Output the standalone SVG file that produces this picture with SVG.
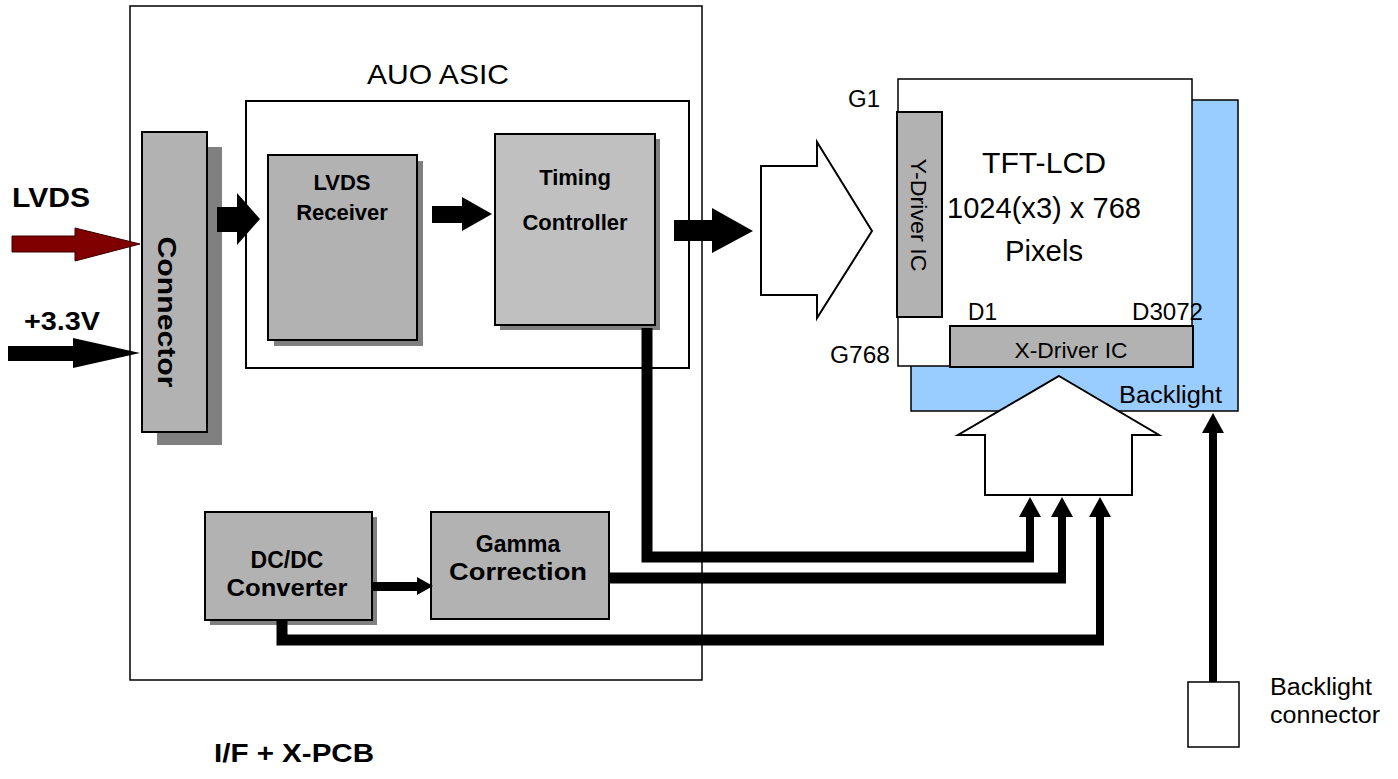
<svg xmlns="http://www.w3.org/2000/svg" width="1398" height="779" viewBox="0 0 1398 779">
<style>
.t{font-family:"Liberation Sans",Arial,Helvetica,sans-serif;fill:#000}
.b{font-weight:bold}
.thin{fill:none;stroke:#000;stroke-width:1.5}
.box{stroke:#000;stroke-width:2}
.gray{fill:#b2b2b2}
.lgray{fill:#c0c0c0}
.shadow{fill:#808080}
.bus{fill:none;stroke:#000;stroke-width:11}
.shaft{fill:none;stroke:#000;stroke-width:8}
.solid{fill:#000}
.hollow{fill:#fff;stroke:#000;stroke-width:2}
</style>
<defs>
<marker id="ah" markerUnits="userSpaceOnUse" viewBox="0 -11 20 22" refX="0" refY="0" markerWidth="20" markerHeight="22" orient="auto">
<path d="M0,-11 L20,0 L0,11 z" fill="#000"/>
</marker>
</defs>

<g id="pcb">
<rect x="130" y="6" width="572" height="674" class="thin"/>
<text class="t b" x="214" y="762" font-size="25" textLength="160" lengthAdjust="spacingAndGlyphs">I/F + X-PCB</text>
</g>

<g id="asic">
<rect x="246" y="101" width="443" height="267" fill="none" class="box"/>
<text class="t" x="438" y="84" font-size="28" text-anchor="middle" textLength="142" lengthAdjust="spacingAndGlyphs">AUO ASIC</text>
</g>

<g id="lvds-in">
<text class="t b" x="12" y="207" font-size="27" textLength="78" lengthAdjust="spacingAndGlyphs">LVDS</text>
<polygon points="12,236 75,236 75,228 140,244 75,261 75,252 12,252" fill="#800000" stroke="#3a0000" stroke-width="1"/>
</g>

<g id="power-in">
<text class="t b" x="24" y="330" font-size="25" textLength="76" lengthAdjust="spacingAndGlyphs">+3.3V</text>
<polygon points="8,346 73,346 73,338 140,353 73,368 73,361 8,361" class="solid"/>
</g>

<g id="connector">
<rect x="157" y="147" width="65" height="298" class="shadow"/>
<rect x="142" y="132" width="65" height="300" class="box gray"/>
<text class="t b" font-size="25" text-anchor="middle" transform="translate(158,312) rotate(90)" textLength="151" lengthAdjust="spacingAndGlyphs">Connector</text>
</g>

<g id="lvds-receiver">
<rect x="274" y="161" width="149" height="185" class="shadow"/>
<rect x="268" y="155" width="149" height="185" class="box gray"/>
<text class="t b" x="342" y="190" font-size="22" text-anchor="middle">LVDS</text>
<text class="t b" x="342" y="220" font-size="22" text-anchor="middle">Receiver</text>
</g>

<g id="timing-controller">
<rect x="500" y="139" width="160" height="191" class="shadow"/>
<rect x="495" y="134" width="160" height="191" class="box lgray"/>
<text class="t b" x="575" y="185" font-size="22" text-anchor="middle">Timing</text>
<text class="t b" x="575" y="230" font-size="22" text-anchor="middle">Controller</text>
</g>

<g id="dcdc">
<rect x="210" y="517" width="167" height="108" class="shadow"/>
<rect x="205" y="512" width="167" height="108" class="box gray"/>
<text class="t b" x="287" y="568" font-size="23" text-anchor="middle">DC/DC</text>
<text class="t b" x="287" y="596" font-size="23" text-anchor="middle" textLength="121" lengthAdjust="spacingAndGlyphs">Converter</text>
</g>

<g id="gamma">
<rect x="431" y="512" width="178" height="107" class="box gray"/>
<text class="t b" x="518" y="552" font-size="23" text-anchor="middle">Gamma</text>
<text class="t b" x="518" y="580" font-size="23" text-anchor="middle" textLength="138" lengthAdjust="spacingAndGlyphs">Correction</text>
</g>

<g id="panel">
<rect x="911" y="100" width="327" height="311" fill="#99ccff" stroke="#000" stroke-width="1.5"/>
<rect x="898" y="79" width="294" height="287" fill="#fff" stroke="#000" stroke-width="1.5"/>
<text class="t" x="1044" y="173" font-size="29" text-anchor="middle" textLength="124" lengthAdjust="spacingAndGlyphs">TFT-LCD</text>
<text class="t" x="1044" y="218" font-size="29" text-anchor="middle" textLength="194" lengthAdjust="spacingAndGlyphs">1024(x3) x 768</text>
<text class="t" x="1044" y="261" font-size="29" text-anchor="middle" textLength="78" lengthAdjust="spacingAndGlyphs">Pixels</text>
<text class="t" x="848" y="107" font-size="23" textLength="32" lengthAdjust="spacingAndGlyphs">G1</text>
<text class="t" x="830" y="363" font-size="23" textLength="60" lengthAdjust="spacingAndGlyphs">G768</text>
<text class="t" x="968" y="320" font-size="23" textLength="29" lengthAdjust="spacingAndGlyphs">D1</text>
<text class="t" x="1132" y="320" font-size="23" textLength="71" lengthAdjust="spacingAndGlyphs">D3072</text>
<text class="t" x="1119" y="403" font-size="23" textLength="103" lengthAdjust="spacingAndGlyphs">Backlight</text>
</g>

<g id="y-driver">
<rect x="897" y="112" width="45" height="205" class="box gray"/>
<text class="t" font-size="22" text-anchor="middle" transform="translate(911,215) rotate(90)" textLength="113" lengthAdjust="spacingAndGlyphs">Y-Driver IC</text>
</g>

<g id="x-driver">
<rect x="950" y="326" width="243" height="41" class="box gray"/>
<text class="t" x="1071" y="358" font-size="22" text-anchor="middle" textLength="113" lengthAdjust="spacingAndGlyphs">X-Driver IC</text>
</g>

<g id="backlight-connector">
<rect x="1188" y="682" width="51" height="65" fill="#fff" stroke="#000" stroke-width="1.5"/>
<text class="t" x="1270" y="695" font-size="23" textLength="102" lengthAdjust="spacingAndGlyphs">Backlight</text>
<text class="t" x="1270" y="723" font-size="23" textLength="110" lengthAdjust="spacingAndGlyphs">connector</text>
</g>

<g id="connectors">
<polygon points="217,207 237,207 237,193 260,219 237,245 237,232 217,232" class="solid"/>
<polygon points="432,206 462,206 462,197 492,214 462,231 462,223 432,223" class="solid"/>
<polygon points="674,220 712,220 712,208 753,231 712,253 712,241 674,241" class="solid"/>
<polygon points="761,166 817,166 817,142 872,231 817,318 817,295 761,295" class="hollow"/>
<polygon points="1059,376 1159,435 1132,435 1132,495 985,495 985,435 958,435" class="hollow"/>
<polygon points="373,582 417,582 417,577 433,586 417,595 417,591 373,591" class="solid"/>
<path d="M647,328 V557 H1034" class="bus"/>
<path d="M609,578 H1066" class="bus"/>
<path d="M282,620 V640 H1104" class="bus"/>
<path d="M1030,562 V517" class="shaft" marker-end="url(#ah)"/>
<path d="M1062,583 V517" class="shaft" marker-end="url(#ah)"/>
<path d="M1100,645 V517" class="shaft" marker-end="url(#ah)"/>
<path d="M1213,682 V433" class="shaft" marker-end="url(#ah)"/>
</g>
</svg>
